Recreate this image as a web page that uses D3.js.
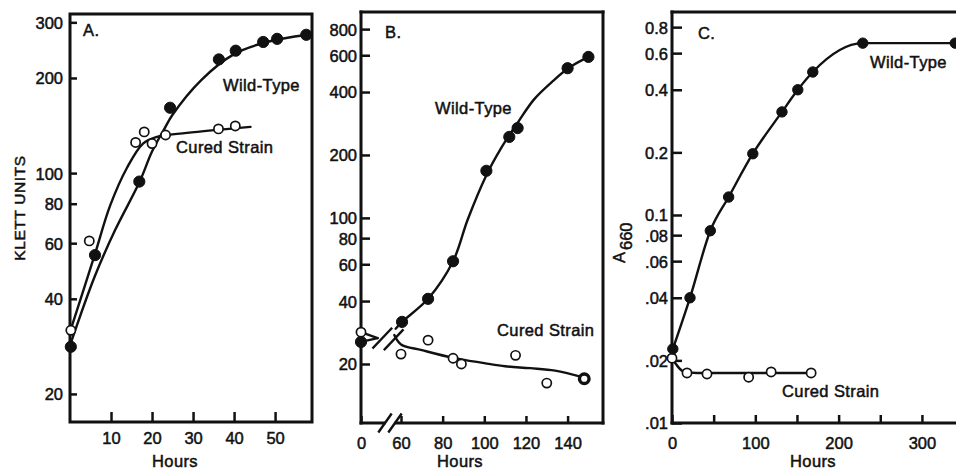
<!DOCTYPE html>
<html><head><meta charset="utf-8">
<script src="https://cdn.jsdelivr.net/npm/d3@7"></script>
<style>
html,body{margin:0;padding:0;background:#fff;}
svg{display:block;}
text{font-family:"Liberation Sans",Arial,Helvetica,sans-serif;fill:#111;stroke:#111;stroke-width:0.5px;}
</style></head><body>
<svg id="chart" width="956" height="472"></svg>
<script>
// ---------- Panel A (Klett units vs hours) ----------
const aWildPts   = [[0.2,28.2],[6.1,55],[16.9,94],[24.4,161],[36.3,229],[40.4,244],[47.1,260],[50.5,266],[57.6,274]];
const aCuredPts  = [[0.2,31.8],[4.7,61],[16,125],[18.1,135],[20,124],[23.3,132],[36.2,138],[40.3,141]];
const aWildCurve = [[0,28.5],[6,47],[11,66],[17,94],[20,117],[23,138],[25,153],[32,197],[40,238],[48,260],[58,274]];
const aCuredCurve= [[0.2,32],[6,55],[9.8,79],[13.9,104],[17.8,124],[21,130],[28.5,134],[44,140]];
const aYTicks = [20,40,60,80,100,200,300];
const aXTicks = [10,20,30,40,50];

// ---------- Panel B (Klett units vs hours, broken axis) ----------
const bWildPts   = [[0,25.5],[60.5,31.8],[73,41],[85,62],[101,168],[112,244],[116,269],[140,520],[150,589]];
const bCuredPts  = [[0,28.4],[60,22.3],[73,26],[85,21.3],[89,20],[115,22],[130,16.2]];
const bCuredLast = [[148,17]];
const bWildPre   = [[0,25.5],[25,26.6]];
const bWildCurve = [[52,29.5],[60.5,31.8],[73,41],[85,62],[92,98],[101,160],[108,215],[116,285],[124,370],[133,452],[141,525],[150,589]];
const bCuredPre  = [[0,28.4],[25,26.6]];
const bCuredCurve= [[50,27.5],[60,24.8],[70,23.3],[85,21.4],[100,20.2],[110,19.5],[122,19.1],[134,18.6],[148,17.2]];
const bYTicks = [20,40,60,80,100,200,400,600,800];
const bXTicks = [0,60,80,100,120,140];
const bCurveBreaks = [[32,26.6],[49,26.1]];
const bAxisBreaks  = [36,51];

// ---------- Panel C (A660 vs hours) ----------
const cWildPts   = [[1,0.0227],[21.6,0.04],[46,0.084],[68,0.122],[97,0.197],[132,0.313],[151,0.40],[169,0.487],[229,0.67],[340,0.67]];
const cCuredPts  = [[0,0.0205],[18,0.0174],[42,0.0172],[92,0.0166],[119,0.0176],[167,0.0174]];
const cCuredCurve= [[0,0.0205],[15,0.0176],[30,0.0174],[167,0.0174]];
const cYTicks = [0.01,0.02,0.04,0.06,0.08,0.1,0.2,0.4,0.6,0.8];
const cYLabels = [".01",".02",".04",".06",".08","0.1","0.2","0.4","0.6","0.8"];
const cXTicks = [0,50,100,150,200,250,300];
const cXLabels = [0,100,200,300];

const INK = "#111";
const FS = 16.5;
const svg = d3.select("#chart");

// scales
const xA = d3.scaleLinear().domain([0,59]).range([70,312]);
const yA = d3.scaleLog().domain([16.3,318.8]).range([422,14]);
const xB = d3.scaleLinear().domain([0,60,157]).range([361,401,603]);
const yB = d3.scaleLog().domain([10.44,966]).range([423,12]);
const xC = d3.scaleLinear().domain([0,339.7]).range([672,955]);
const yC = d3.scaleLog().domain([0.01,0.946]).range([423,12]);

function styleAxis(g){
  g.select(".domain").remove();
  g.selectAll(".tick line").attr("stroke",INK).attr("stroke-width",2.5);
  g.selectAll(".tick text").attr("font-size",FS).attr("fill",INK)
   .style("font-family",'"Liberation Sans",Arial,Helvetica,sans-serif');
}
function yAxis(x0, y, ticks, size, pad, fmt){
  const g = svg.append("g").attr("transform",`translate(${x0},0)`)
    .call(d3.axisLeft(y).tickValues(ticks).tickSize(-size).tickPadding(pad).tickFormat(fmt||(d=>d)));
  styleAxis(g);
  g.selectAll(".tick text").attr("dy","0.36em");
}
function xAxis(y0, x, ticks, size, pad, fmt){
  const g = svg.append("g").attr("transform",`translate(0,${y0})`)
    .call(d3.axisBottom(x).tickValues(ticks).tickSize(-size).tickPadding(pad).tickFormat(fmt||(d=>d)));
  styleAxis(g);
}
function line(x,y,pts,curve){
  svg.append("path").datum(pts)
    .attr("d",d3.line().x(d=>x(d[0])).y(d=>y(d[1])).curve(curve||d3.curveMonotoneX))
    .attr("fill","none").attr("stroke",INK).attr("stroke-width",2.4).attr("stroke-linecap","round");
}
function dots(x,y,pts,filled,r,sw){
  svg.append("g").selectAll("circle").data(pts).join("circle")
    .attr("cx",d=>x(d[0])).attr("cy",d=>y(d[1])).attr("r",r)
    .attr("fill",filled?INK:"#fff").attr("stroke",INK).attr("stroke-width",sw);
}
function label(x,y,s,opts={}){
  const t = svg.append("text").attr("x",x).attr("y",y).attr("font-size",opts.fs||FS)
    .attr("letter-spacing",opts.ls==null?0.4:opts.ls).text(s);
  if(opts.anchor) t.attr("text-anchor",opts.anchor);
  return t;
}
function seg(x1,y1,x2,y2,w){
  svg.append("line").attr("x1",x1).attr("y1",y1).attr("x2",x2).attr("y2",y2)
    .attr("stroke",INK).attr("stroke-width",w||3).attr("stroke-linecap","square");
}
const CR = d3.curveCatmullRom.alpha(0.5);

// ===== Panel A =====
svg.append("rect").attr("x",xA(0)).attr("y",yA.range()[1]).attr("width",xA(59)-xA(0)).attr("height",yA.range()[0]-yA.range()[1])
  .attr("fill","none").attr("stroke",INK).attr("stroke-width",3);
yAxis(xA(0), yA, aYTicks, 7, 7);
xAxis(yA.range()[0], xA, aXTicks, 10, 10);
line(xA,yA,aWildCurve,CR);
line(xA,yA,aCuredCurve,CR);
dots(xA,yA,aCuredPts,false,4.6,1.7);
dots(xA,yA,aWildPts,true,5.6,1);
label(83,36,"A.");
label(223,91,"Wild-Type");
label(176,153,"Cured Strain");
label(175,467,"Hours",{anchor:"middle"});
label(0,0,"KLETT UNITS",{anchor:"middle",fs:15.5,ls:0.6}).attr("transform","translate(25,208) rotate(-90)");

// ===== Panel B =====
const bL = xB(0), bR = xB(157), bT = yB.range()[1], bBot = yB.range()[0];
seg(bL,bT,bR,bT); seg(bL,bT,bL,bBot); seg(bR,bT,bR,bBot);
seg(bL,bBot,xB(bAxisBreaks[0])-1,bBot); seg(xB(bAxisBreaks[1])+1,bBot,bR,bBot);
bAxisBreaks.forEach(h=>{ const cx=xB(h); seg(cx-6,bBot+8.5,cx+6,bBot-8.5,2.4); });
yAxis(bL, yB, bYTicks, 9, 4);
xAxis(bBot, xB, bXTicks, 7, 14);
line(xB,yB,bWildPre); line(xB,yB,bWildCurve,CR);
line(xB,yB,bCuredPre); line(xB,yB,bCuredCurve,CR);
bCurveBreaks.forEach(d=>{ const cx=xB(d[0]), cy=yB(d[1]); seg(cx-9,cy+9.5,cx+9,cy-9.5,2.4); });
dots(xB,yB,bCuredPts,false,4.6,1.7);
dots(xB,yB,bCuredLast,false,4.8,3.4);
dots(xB,yB,bWildPts,true,5.6,1);
label(385,38,"B.");
label(435,114,"Wild-Type");
label(497,336,"Cured Strain");
label(460,467,"Hours",{anchor:"middle"});

// ===== Panel C =====
const cL = xC(0), cT = yC.range()[1], cBot = yC.range()[0];
seg(cL,cT,960,cT); seg(cL,cT,cL,cBot); seg(cL,cBot,960,cBot);
yAxis(cL, yC, cYTicks, 10, 4, (d,i)=>cYLabels[i]);
xAxis(cBot, xC, cXTicks, 8, 14, d=>cXLabels.includes(d)?d:"");
line(xC,yC,cWildPts);
line(xC,yC,cCuredCurve);
dots(xC,yC,cCuredPts,false,4.6,1.7);
dots(xC,yC,cWildPts,true,5.2,1);
label(698,39,"C.");
label(870,68,"Wild-Type");
label(782,397,"Cured Strain");
label(813,467,"Hours",{anchor:"middle"});
const a660 = svg.append("text").attr("transform","translate(625,263) rotate(-90)").attr("font-size",FS);
a660.append("tspan").text("A");
a660.append("tspan").attr("dy",7).attr("dx",2).text("660");
</script>
</body></html>
